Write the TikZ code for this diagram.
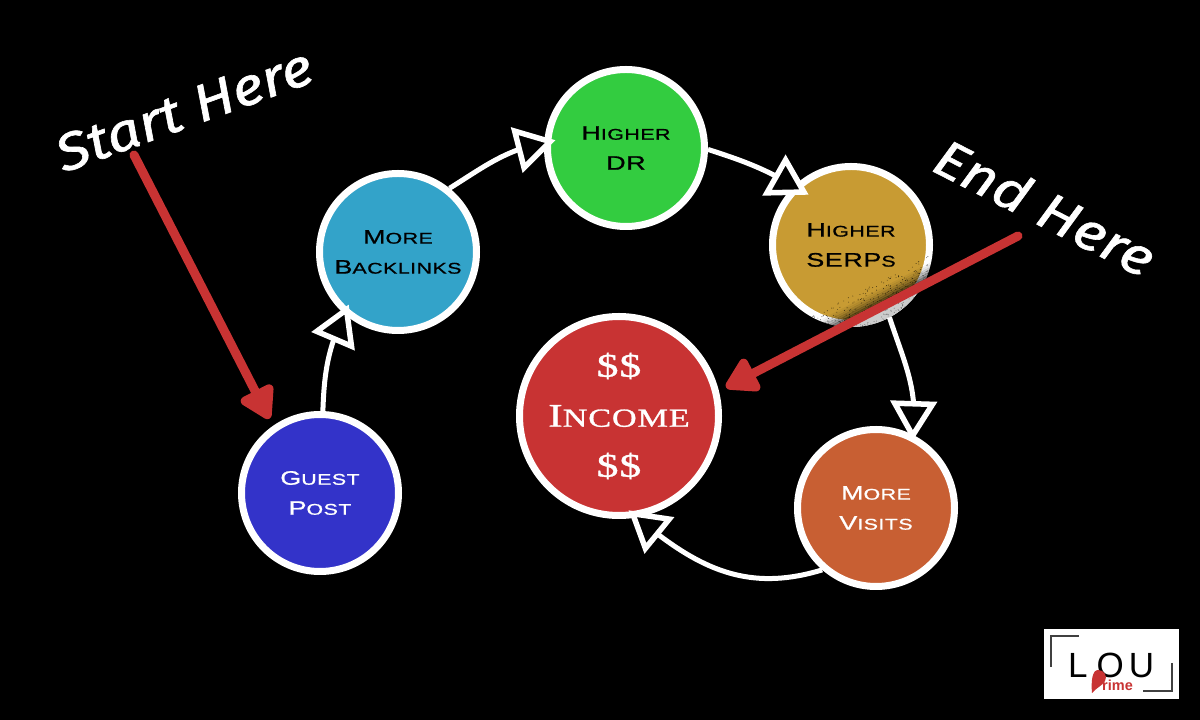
\documentclass[tikz,border=0pt]{standalone}
\usepackage{fontspec}
\usetikzlibrary{arrows.meta,calc,bending}
\newfontfamily\cpfont[FakeStretch=1.38,LetterSpace=3,FakeBold=0.9]{Liberation Sans}
\newfontfamily\cpserif[FakeStretch=1.32,LetterSpace=3,FakeBold=1.1]{Liberation Serif}
\newfontfamily\chalkfont[FakeStretch=1.15,FakeBold=1.2]{Fira Sans}
\newcommand{\cpw}[2]{{\fontsize{19.5}{30}\selectfont #1\fontsize{15.5}{30}\selectfont #2}}
\newcommand{\cpb}[2]{{\fontsize{33}{50}\selectfont #1\fontsize{26}{50}\selectfont #2}}
\definecolor{cgreen}{HTML}{33CC40}
\definecolor{cblue}{HTML}{33A3C9}
\definecolor{cgold}{HTML}{C89B33}
\definecolor{corange}{HTML}{C85F33}
\definecolor{cred}{HTML}{C83333}
\definecolor{cindigo}{HTML}{3333C9}
\tikzset{
  x=1pt,y=1pt,
  stage/.style={circle,draw=white,line width=7pt,minimum size=157pt,inner sep=0pt,outer sep=3.5pt,align=center,font=\cpfont\fontsize{19.5}{30}\selectfont},
  conn/.style={draw=white,line width=5pt,-{Triangle[open,length=40pt,width=46pt,line width=5.5pt,fill=black,flex=1]}},
  redarrow/.style={draw=cred,line width=9pt,line cap=round,-{Triangle[length=36pt,width=40pt,round]}},
  chalk/.style={text=white,font=\chalkfont\itshape\fontsize{52}{52}\selectfont,inner sep=0pt},
}
\begin{document}
\begin{tikzpicture}
\useasboundingbox (0,0) rectangle (1200,720);
\fill[black] (0,0) rectangle (1200,720);
% stages
\node[stage,fill=cindigo,text=white] (guest) at (320,227) {\cpw{G}{UEST}\\\cpw{P}{OST}};
\node[stage,fill=cblue,text=black] (back) at (398,468) {\cpw{M}{ORE}\\\cpw{B}{ACKLINKS}};
\node[stage,fill=cgreen,text=black] (dr) at (626,572) {\cpw{H}{IGHER}\\\cpw{DR}{}};
\node[stage,fill=cgold,text=black] (serp) at (851,475) {\cpw{H}{IGHER}\\\cpw{SERP}{S}};
\node[stage,fill=corange,text=white] (visits) at (876,212) {\cpw{M}{ORE}\\\cpw{V}{ISITS}};
\node[stage,fill=cred,text=white,minimum size=199pt,font=\cpserif\fontsize{33}{50}\selectfont] (income) at (619,304) {\cpb{\$\$}{}\\\cpb{I}{NCOME}\\\cpb{\$\$}{}};
% shadow cast by the red arrow on the gold circle
\begin{scope}
  \clip (851,475) circle (82);
  \fill[white!80!black] (727,332) -- (1018,484) -- (1018,300) -- (727,300) -- cycle;
  \foreach \d/\o in {2/.75,4/.62,6/.5,8/.38,10/.27,12/.18,14/.1,16/.05}{
    \draw[black,opacity=\o,line width=2.2pt,shift={(-.463*\d,.887*\d)}] (727,332) -- (1018,484);
  }
  \pgfmathsetseed{42}
  \foreach \i in {1,...,500}{
    \pgfmathsetmacro{\pt}{100+rnd*150}
    \pgfmathsetmacro{\pr}{rnd}
    \pgfmathsetmacro{\pd}{24*\pr*\pr}
    \fill[black,opacity=.7] (727+.887*\pt-.463*\pd,332+.463*\pt+.887*\pd) circle (.45);
  }
  \foreach \i in {1,...,260}{
    \pgfmathsetmacro{\pt}{100+rnd*150}
    \pgfmathsetmacro{\pd}{4+rnd*16}
    \fill[black,opacity=.55] (727+.887*\pt+.463*\pd,332+.463*\pt-.887*\pd) circle (.45);
  }
\end{scope}
% connectors
\draw[conn,shorten >=-10pt] (guest.88) to[out=88,in=245] (back.229);
\draw[conn,shorten >=-11pt] (back.51) to[out=32,in=192] (dr.176);
\draw[conn,shorten >=-16pt] (dr.-1) to[out=-18,in=150] (serp.134);
\draw[conn,shorten >=-6pt] (serp.-62) to[out=-72,in=84] (visits.63);
\draw[conn,shorten >=-11pt] (visits.229) to[out=197,in=320,looseness=1.05] (income.-80);
% red arrows
\coordinate (startfree) at (134,565);
\coordinate (endfree) at (1018,484);
\draw[redarrow,shorten >=8pt] (startfree) -- (guest.125);
\draw[redarrow,shorten >=8pt] (endfree) -- (income.14.5);
% chalk labels
\node[chalk,rotate=20] (starthere) at (184,610) {Start Here};
\node[chalk,rotate=-27] (endhere) at (1045,513) {End Here};
% logo
\fill[white] (1044,21) rectangle (1179,91);
\draw[black!75,line width=1.3pt] (1051,53) -- (1051,84) -- (1079,84);
\draw[black!75,line width=1.3pt] (1172,57) -- (1172,29) -- (1143,29);
\node[inner sep=0pt,anchor=base west,text=black,font=\fontspec{Liberation Sans}\fontsize{35}{35}\selectfont] (lou) at (1068,42) {L\kern9pt O\kern5pt U};
\fill[cred] (1092,27) .. controls (1091,38) and (1092,50) .. (1098,50) .. controls (1104,50) and (1108,44) .. (1105,39) .. controls (1102,34) and (1096,32) .. (1092,27) -- cycle;
\node[inner sep=0pt,anchor=base west,text=cred,font=\fontspec{Liberation Sans Bold}\fontsize{14.5}{14.5}\selectfont] (rime) at (1102,29) {rime};
\end{tikzpicture}
\end{document}
